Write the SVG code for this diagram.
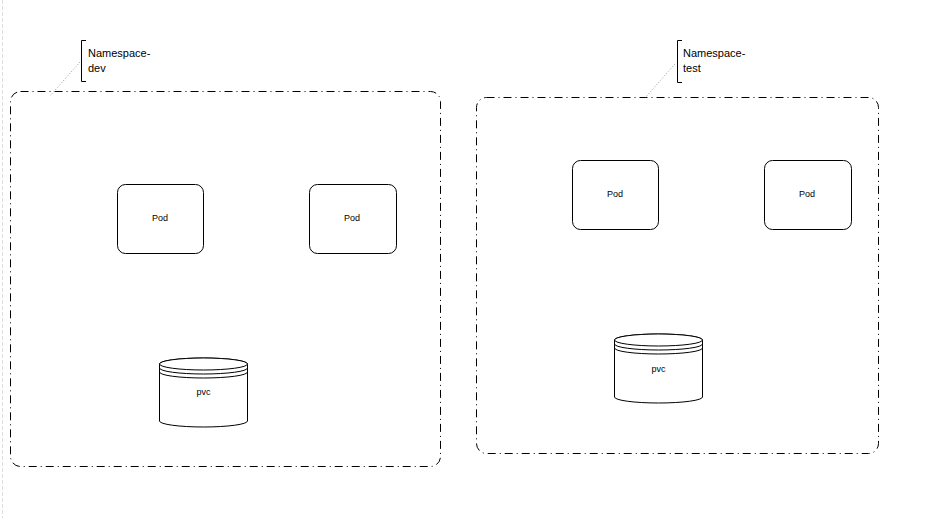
<svg xmlns="http://www.w3.org/2000/svg" width="946" height="518" viewBox="0 0 946 518">
<style>
.ns{fill:none;stroke:#000;stroke-width:1;stroke-dasharray:8 4 1 4}
.pod{fill:#fff;stroke:#000;stroke-width:1}
.cyl{fill:#fff;stroke:#000;stroke-width:1}
.t{font-family:"Liberation Sans",Arial,sans-serif;font-size:9px;fill:#000;text-anchor:middle}
.lbl{font-family:"Liberation Sans",Arial,sans-serif;font-size:11px;fill:#000}
.br{fill:none;stroke:#000;stroke-width:1}
.lead{fill:none;stroke:#999;stroke-width:1;stroke-dasharray:1 2}
</style>
<rect width="946" height="518" fill="#fff"/>
<line x1="2.5" y1="0" x2="2.5" y2="518" stroke="#ddd" stroke-dasharray="4 2"/>
<g id="ns-dev">
<rect class="ns" x="10.5" y="91.5" width="430" height="375" rx="10"/>
</g>
<g id="ns-test">
<rect class="ns" x="476.5" y="97.5" width="402" height="356" rx="10"/>
</g>
<g id="label-dev">
<path class="br" d="M86 40.5H81.5V81.5H86"/>
<text class="lbl" x="88" y="57">Namespace-</text>
<text class="lbl" x="88" y="72">dev</text>
</g>
<g id="label-test">
<path class="br" d="M682 40.5H677.5V82.5H682"/>
<text class="lbl" x="683" y="57">Namespace-</text>
<text class="lbl" x="683" y="72">test</text>
</g>
<g id="pod-dev-1">
<rect class="pod" x="117.5" y="184.5" width="86" height="69" rx="8"/>
<text class="t" x="160" y="221">Pod</text>
</g>
<g id="pod-dev-2">
<rect class="pod" x="309.5" y="184.5" width="87" height="69" rx="8"/>
<text class="t" x="352" y="221">Pod</text>
</g>
<g id="pod-test-1">
<rect class="pod" x="572.5" y="160.5" width="86" height="69" rx="8"/>
<text class="t" x="615" y="197">Pod</text>
</g>
<g id="pod-test-2">
<rect class="pod" x="764.5" y="160.5" width="87" height="69" rx="8"/>
<text class="t" x="807" y="197">Pod</text>
</g>
<g id="pvc-dev">
<path class="cyl" d="M159.5 364V421A44 6 0 0 0 247.5 421V364A44 6 0 0 0 159.5 364Z"/>
<ellipse class="cyl" cx="203.5" cy="364" rx="44" ry="6"/>
<path class="br" d="M159.5 368A44 6 0 0 0 247.5 368M159.5 372A44 6 0 0 0 247.5 372"/>
<text class="t" x="203.5" y="395">pvc</text>
</g>
<g id="pvc-test">
<path class="cyl" d="M614.5 340V397A44 6 0 0 0 702.5 397V340A44 6 0 0 0 614.5 340Z"/>
<ellipse class="cyl" cx="658.5" cy="340" rx="44" ry="6"/>
<path class="br" d="M614.5 344A44 6 0 0 0 702.5 344M614.5 348A44 6 0 0 0 702.5 348"/>
<text class="t" x="658.5" y="372">pvc</text>
</g>
<g id="connectors">
<line class="lead" x1="80" y1="62" x2="50" y2="96"/>
<line class="lead" x1="675" y1="64" x2="645" y2="98"/>
</g>
</svg>
